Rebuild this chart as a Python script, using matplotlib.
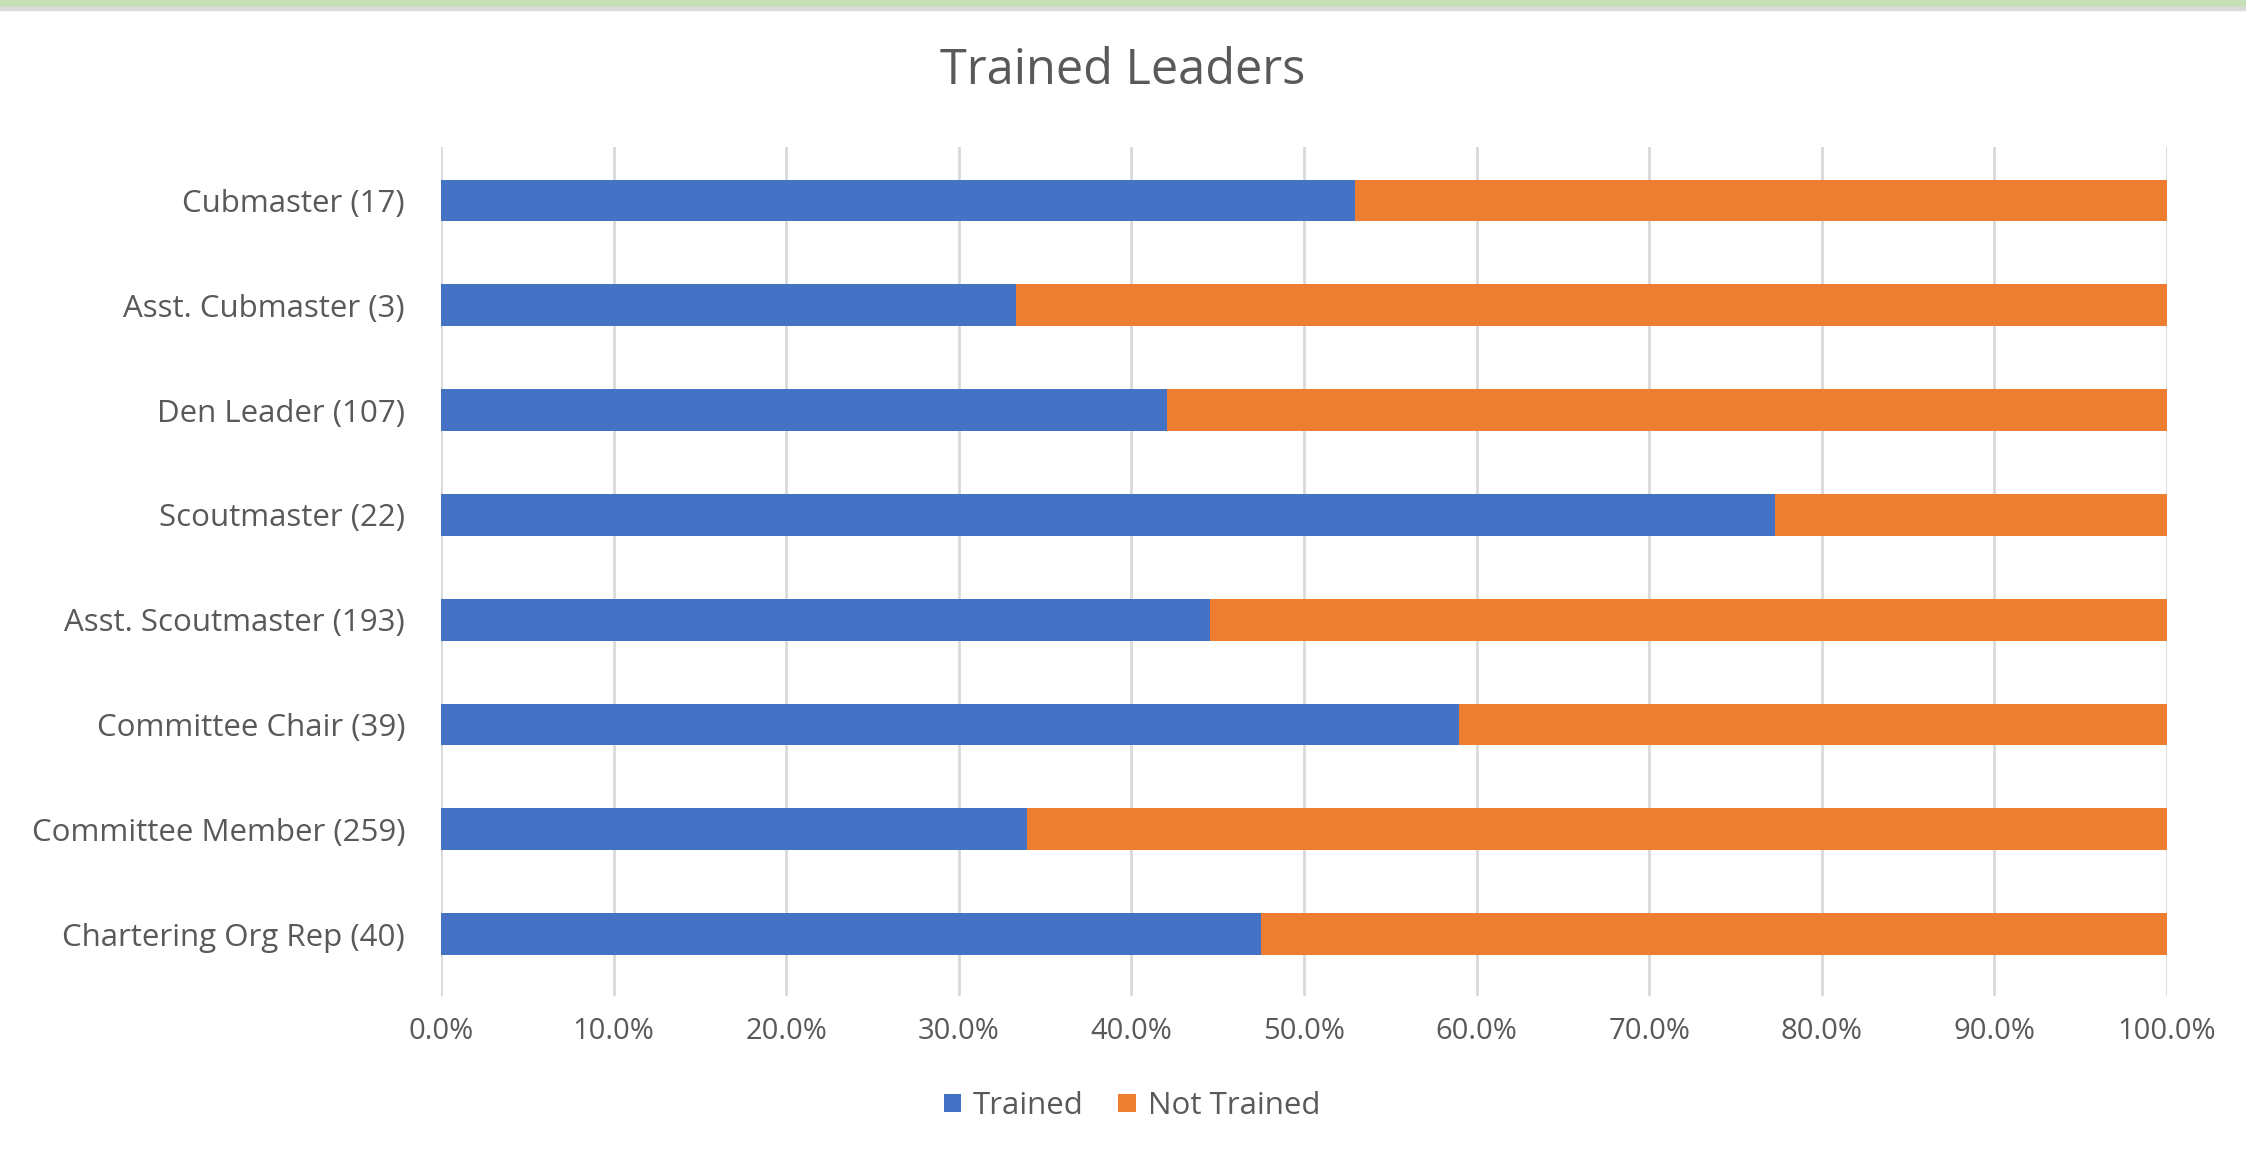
import matplotlib
matplotlib.use("Agg")
import matplotlib.pyplot as plt
from matplotlib.patches import Rectangle
import numpy as np

# roles, total leaders and how many of them are trained
roles = ["Cubmaster", "Asst. Cubmaster", "Den Leader", "Scoutmaster",
         "Asst. Scoutmaster", "Committee Chair", "Committee Member",
         "Chartering Org Rep"]
totals = [17, 3, 107, 22, 193, 39, 259, 40]
trained = [9, 1, 45, 17, 86, 23, 88, 19]

series_names = ["Trained", "Not Trained"]
colors = ["#4472C4", "#ED7D31"]
text_color = "#595959"

plt.rcParams['font.family'] = ['Open Sans', 'DejaVu Sans']

totals = np.array(totals, dtype=float)
trained = np.array(trained, dtype=float)
share_trained = trained / totals
share_not = 1.0 - share_trained
labels = ["{} ({})".format(r, int(t)) for r, t in zip(roles, totals)]

fig = plt.figure(figsize=(22.46, 11.55), dpi=100)
ax = fig.add_axes([0.1964, 0.1377, 0.9648 - 0.1964, 0.8727 - 0.1377])

# green band at top of the picture
fig.patches.append(Rectangle((0, 1 - 7 / 1155), 1, 7 / 1155,
                             transform=fig.transFigure, color="#C5E0B4",
                             zorder=0))
fig.patches.append(Rectangle((0, 1 - 10 / 1155), 1, 3 / 1155,
                             transform=fig.transFigure, color="#DADADA",
                             zorder=0))

y = np.arange(len(roles))
ax.barh(y, share_trained, height=0.4, color=colors[0], label=series_names[0],
        zorder=2)
ax.barh(y, share_not, left=share_trained, height=0.4, color=colors[1],
        label=series_names[1], zorder=2)

ax.set_xlim(0, 1)
ax.set_ylim(7.59, -0.51)
ax.set_yticks(y)
ax.set_yticklabels(labels)
ticks = np.linspace(0, 1, 11)
ax.set_xticks(ticks)
ax.set_xticklabels(["{:.1f}%".format(t * 100) for t in ticks])

ax.grid(axis="x", color="#D9D9D9", linewidth=2, zorder=0)
for s in ax.spines.values():
    s.set_visible(False)
ax.tick_params(axis="y", length=0, labelsize=22.5, labelcolor=text_color,
               pad=26)
ax.tick_params(axis="x", length=0, labelsize=21, labelcolor=text_color,
               pad=15)

fig.text(0.5, 1 - 71 / 1155, "Trained Leaders", ha="center", va="center",
         fontsize=35, color=text_color)

ax.legend(loc="center", bbox_to_anchor=(0.504, 1 - 1106 / 1155),
          bbox_transform=fig.transFigure, ncol=2, frameon=False,
          fontsize=22.5, labelcolor=text_color, handlelength=0.55,
          handleheight=0.55, handletextpad=0.4, columnspacing=1.1)

fig.savefig("out.png", dpi=100, facecolor="white")
